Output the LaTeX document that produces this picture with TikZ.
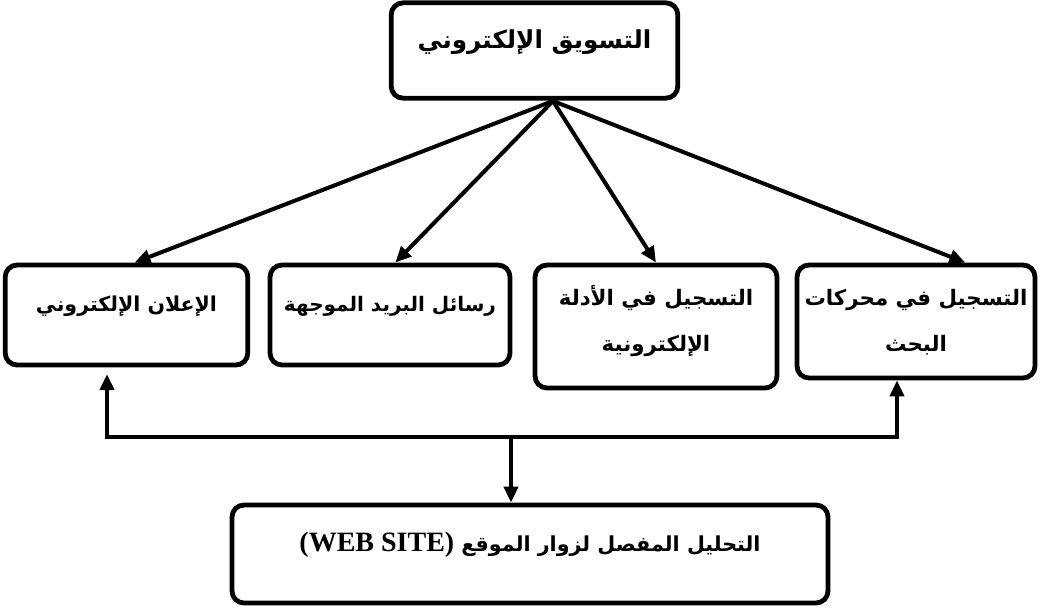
\documentclass[tikz,border=0pt]{standalone}
\usepackage{fontspec}
\setmainfont{Liberation Serif}
\newfontfamily\arabicfont[Script=Arabic]{DejaVu Sans}
\TeXXeTstate=1
\usetikzlibrary{arrows.meta}

\begin{document}
\begin{tikzpicture}[x=0.75pt, y=-0.75pt,
        box/.style={draw, line width=3.6pt, rounded corners=9pt, inner sep=0pt},
        arr/.style={line width=3pt, -{Triangle[length=12pt, width=10.5pt]}}]
    \useasboundingbox (0,0) rectangle (1040,608);

    \node[box, minimum width=215pt, text height=34pt, text depth=37.5pt,
          font=\arabicfont\bfseries\fontsize{18.5}{24}\selectfont] (top) at (534.5,50.5)
          {\beginR التسويق الإلكتروني\endR};

    \node[box, minimum width=182pt, text height=34.5pt, text depth=40.5pt,
          font=\arabicfont\bfseries\fontsize{15.4}{34}\selectfont] (b1) at (126.5,315)
          {\beginR الإعلان الإلكتروني\endR};
    \node[box, minimum width=180pt, text height=34.5pt, text depth=40.5pt,
          font=\arabicfont\bfseries\fontsize{15}{34}\selectfont] (b2) at (390,315)
          {\beginR رسائل البريد الموجهة\endR};
    \node[box, align=center, minimum width=181.5pt, text height=64.5pt, text depth=27.75pt,
          font=\arabicfont\bfseries\fontsize{16}{34}\selectfont] (b3) at (656,326.5)
          {\beginR التسجيل في الأدلة\endR\\\beginR الإلكترونية\endR};
    \node[box, align=center, minimum width=178.5pt, text height=64.5pt, text depth=20.25pt,
          font=\arabicfont\bfseries\fontsize{16}{34}\selectfont] (b4) at (916,321.5)
          {\beginR التسجيل في محركات\endR\\\beginR البحث\endR};

    \node[box, minimum width=447pt, text height=35pt, text depth=38.5pt,
          font=\rmfamily\bfseries\fontsize{21}{24}\selectfont] (b5) at (530,554)
          {(WEB SITE)\ {\arabicfont\fontsize{15.5}{24}\selectfont\beginR التحليل المفصل لزوار الموقع\endR}};

    % من الصندوق الأعلى إلى الوسائل الأربع
    \coordinate (fan) at (553,101);
    \draw[arr] (fan) -- ([xshift=6pt]b1.north);
    \draw[arr] (fan) -- ([xshift=4pt]b2.north);
    \draw[arr] (fan) -- (b3.north);
    \draw[arr] (fan) -- ([xshift=37pt]b4.north);

    % الخط السفلي
    \coordinate (busL) at (107,437);
    \coordinate (busR) at (897,437);
    \coordinate (bus) at (511,437);
    \draw[arr, {Triangle[length=12pt, width=10.5pt]}-{Triangle[length=12pt, width=10.5pt]}, line join=miter]
        ([yshift=-5pt]busL |- b1.south) -- (busL) -- (busR) -- (busR |- b4.south);
    \draw[arr] (bus) -- (bus |- b5.north);
\end{tikzpicture}
\end{document}
